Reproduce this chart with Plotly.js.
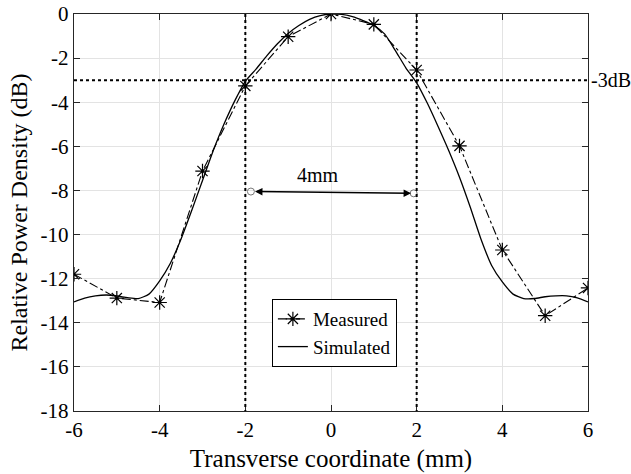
<!DOCTYPE html>
<html>
<head>
<meta charset="utf-8">
<script src="https://cdn.plot.ly/plotly-3.0.1.min.js"></script>
<style>html,body{margin:0;padding:0;background:#fff;}#chart{width:631px;height:474px;}</style>
</head>
<body>
<div id="chart"></div>
<script>
// Measured data (stars, dash-dot)
const measuredX = [-6, -5, -4, -3, -2, -1, 0, 1, 2, 3, 4, 5, 6];
const measuredY = [-11.8, -12.88, -13.08, -7.12, -3.26, -1.03, 0, -0.47, -2.54, -5.98, -10.7, -13.68, -12.42];

// Simulated data (solid line)
const simulatedX = [-6, -5.75, -5.5, -5.25, -5, -4.75, -4.5, -4.25, -4, -3.75, -3.5, -3.25, -3, -2.75, -2.5, -2.25, -2, -1.75, -1.5, -1.25, -1, -0.75, -0.5, -0.25, 0, 0.25, 0.5, 0.75, 1, 1.25, 1.5, 1.75, 2, 2.25, 2.5, 2.75, 3, 3.25, 3.5, 3.75, 4, 4.25, 4.5, 4.75, 5, 5.25, 5.5, 5.75, 6];
const simulatedY = [-13.05, -12.88, -12.78, -12.74, -12.78, -12.86, -12.9, -12.7, -12.1, -11.3, -10.2, -8.9, -7.55, -6.2, -5.0, -3.95, -3.05, -2.5, -1.9, -1.35, -0.88, -0.52, -0.24, -0.07, 0, -0.02, -0.12, -0.3, -0.52, -0.9, -1.65, -2.45, -3.12, -4.05, -5.1, -6.2, -7.4, -8.75, -10.2, -11.4, -12.15, -12.7, -12.9, -12.9, -12.82, -12.78, -12.78, -12.87, -13.05];

// Axis ticks
const xTickVals = [-6, -4, -2, 0, 2, 4, 6];
const xTickText = ["-6", "-4", "-2", "0", "2", "4", "6"];
const yTickVals = [0, -2, -4, -6, -8, -10, -12, -14, -16, -18];
const yTickText = ["0", "-2", "-4", "-6", "-8", "-10", "-12", "-14", "-16", "-18"];

// Annotation values
const halfPowerLevel = -3;
const beamEdges = [-2, 2];
const arrowX = [-1.87, 1.93];
const arrowY = [-8.05, -8.13];
const widthLabel = "4mm";
const levelLabel = "-3dB";

const font = "Liberation Serif, Times New Roman, serif";

const traces = [
  {
    x: measuredX, y: measuredY, name: "Measured", type: "scatter", mode: "lines+markers",
    line: {color: "#000", width: 1.1, dash: "dashdot"},
    marker: {symbol: "asterisk-open", size: 12, color: "#000", line: {color: "#000", width: 1.2}}
  },
  {
    x: simulatedX, y: simulatedY, name: "Simulated", type: "scatter", mode: "lines",
    line: {color: "#000", width: 1.3, shape: "spline", smoothing: 0.6}
  },
  {
    x: arrowX, y: arrowY, type: "scatter", mode: "markers", showlegend: false,
    marker: {symbol: "circle-open", size: 7, color: "#777", line: {color: "#777", width: 1}}
  }
];

const shapes = [
  {type: "line", xref: "x", yref: "y", x0: -6, x1: 6, y0: halfPowerLevel, y1: halfPowerLevel,
   line: {color: "#000", width: 2, dash: "dot"}},
  {type: "line", xref: "x", yref: "y", x0: beamEdges[0], x1: beamEdges[0], y0: 0, y1: -18,
   line: {color: "#000", width: 2, dash: "dot"}},
  {type: "line", xref: "x", yref: "y", x0: beamEdges[1], x1: beamEdges[1], y0: 0, y1: -18,
   line: {color: "#000", width: 2, dash: "dot"}}
];

const annotations = [
  {x: arrowX[1] - 0.06, y: arrowY[1], ax: arrowX[0] + 0.06, ay: arrowY[0], xref: "x", yref: "y", axref: "x", ayref: "y",
   showarrow: true, arrowhead: 2, startarrowhead: 2, arrowside: "end+start", arrowsize: 1, startarrowsize: 1,
   arrowwidth: 1.5, arrowcolor: "#000", text: ""},
  {x: -0.3, y: -7.3, xref: "x", yref: "y", text: widthLabel, showarrow: false,
   font: {family: font, size: 20, color: "#000"}},
  {x: 1, y: halfPowerLevel, xref: "paper", yref: "y", text: levelLabel, showarrow: false,
   xanchor: "left", yanchor: "middle", xshift: 1, font: {family: font, size: 20, color: "#000"}}
];

const axisCommon = {
  showline: true, mirror: "ticks", linecolor: "#262626", linewidth: 1.2,
  ticks: "inside", ticklen: 6, tickcolor: "#262626", tickwidth: 1,
  showgrid: true, gridcolor: "#e3e3e3", gridwidth: 1, zeroline: false,
  tickfont: {family: font, size: 21, color: "#000"}
};

const layout = {
  width: 631, height: 474,
  margin: {l: 74, r: 43, t: 14, b: 63},
  paper_bgcolor: "#fff", plot_bgcolor: "#fff",
  showlegend: true,
  legend: {x: 0.385, y: 0.282, xanchor: "left", yanchor: "top",
    bgcolor: "#fff", bordercolor: "#000", borderwidth: 1,
    font: {family: font, size: 19, color: "#000"}, tracegroupgap: 0, itemwidth: 30},
  xaxis: Object.assign({}, axisCommon, {
    range: [-6, 6], tickvals: xTickVals, ticktext: xTickText,
    title: {text: "Transverse coordinate (mm)", font: {family: font, size: 25, color: "#000"}, standoff: 8}
  }),
  yaxis: Object.assign({}, axisCommon, {
    range: [-18, 0], tickvals: yTickVals, ticktext: yTickText,
    title: {text: "Relative Power Density (dB)", font: {family: font, size: 24, color: "#000"}, standoff: 6}
  }),
  shapes: shapes,
  annotations: annotations
};

Plotly.newPlot("chart", traces, layout, {displayModeBar: false, staticPlot: true});
</script>
</body>
</html>
